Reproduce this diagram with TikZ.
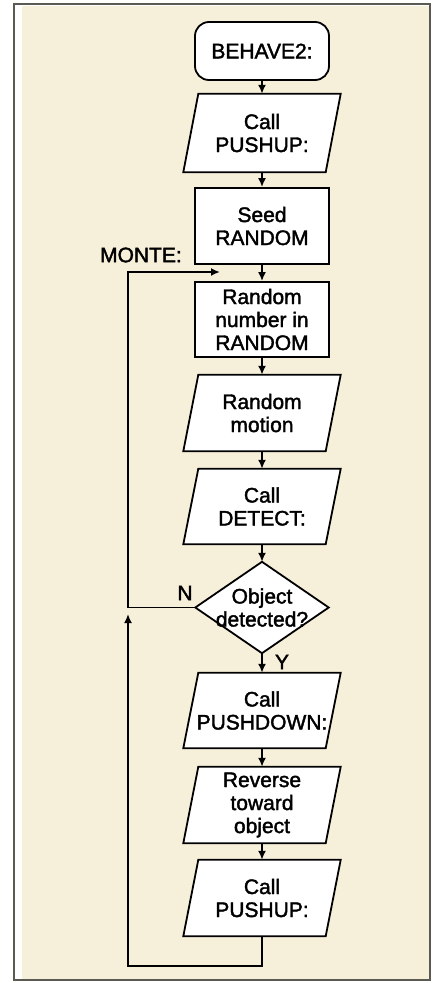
\documentclass[tikz,border=0pt]{standalone}
\usepackage{fontspec}
\setmainfont[FakeBold=1.8]{Liberation Sans}
\usetikzlibrary{arrows.meta,calc}
\pgfdeclarelayer{back}
\pgfdeclarelayer{bg}
\pgfsetlayers{back,bg,main}
\definecolor{cream}{HTML}{F6EFD9}
\definecolor{frame}{HTML}{5A5A52}
\begin{document}
\begin{tikzpicture}[x=1pt,y=-1pt,
  line width=1.8pt,
  txt/.style={font=\fontsize{21}{23}\selectfont, align=center, inner sep=0pt},
  box/.style={txt, draw=black, fill=white, line width=1.8pt, minimum width=134pt, minimum height=76pt},
  pbox/.style={txt, minimum width=142pt, minimum height=76pt},
  dbox/.style={txt, minimum width=133pt, minimum height=91pt},
  lbl/.style={font=\fontsize{21}{23}\selectfont, inner sep=0pt},
  arr/.style={line width=1.8pt, -{Latex[length=9pt,width=8pt]}},
  shapeline/.style={draw=black, fill=white, line width=1.8pt, line join=miter}
]
\useasboundingbox (0,0) rectangle (433,983);
\begin{pgfonlayer}{back}
\fill[white] (0,0) rectangle (433,983);
\fill[cream] (22,6) rectangle (429,979);
\draw[frame, line width=1.6pt] (14,4) rectangle (430,980);
\end{pgfonlayer}

\node[box, rounded corners=14pt, minimum height=58pt] (beh) at (262,51) {BEHAVE2:};
\node[pbox, minimum height=78pt] (p1) at (262,133) {Call\\PUSHUP:};
\node[box] (seed) at (262,226) {Seed\\RANDOM};
\node[box, minimum height=75pt] (rnd) at (262,319.5) {Random\\number in\\RANDOM};
\node[pbox] (mot) at (262,413) {Random\\motion};
\node[pbox, minimum height=75pt] (det) at (262,506.5) {Call\\DETECT:};
\node[dbox] (dia) at (262,607.5) {Object\\detected?};
\node[pbox, minimum height=75pt] (pd) at (262,710.5) {Call\\PUSHDOWN:};
\node[pbox] (rev) at (262,805) {Reverse\\toward\\object};
\node[pbox] (pu2) at (262,898) {Call\\PUSHUP:};

\begin{pgfonlayer}{bg}
  \foreach \n in {p1,mot,det,pd,rev,pu2}{
    \path[shapeline] ($(\n.south west)+(-7.5,0)$) -- ($(\n.south east)+(-7.5,0)$)
      -- ($(\n.north east)+(7.5,0)$) -- ($(\n.north west)+(7.5,0)$) -- cycle;
  }
  \path[shapeline] (dia.north) -- (dia.east) -- (dia.south) -- (dia.west) -- cycle;
\end{pgfonlayer}

\node[lbl, anchor=east] (monte) at (182,255) {MONTE:};
\node[lbl] (nlab) at (185,593) {N};
\node[lbl] (ylab) at (282,662) {Y};

\draw[arr] (beh.south) -- (p1.north);
\draw[arr] (p1.south) -- (seed.north);
\draw[arr] (seed.south) -- (rnd.north);
\draw[arr] (rnd.south) -- (mot.north);
\draw[arr] (mot.south) -- (det.north);
\draw[arr] (det.south) -- (dia.north);
\draw[arr] (dia.south) -- (pd.north);
\draw[arr] (pd.south) -- (rev.north);
\draw[arr] (rev.south) -- (pu2.north);

\coordinate (m) at (220,272);
\coordinate (nl) at (128,607.5);
\draw[arr] (dia.west) -- (nl) -- (nl |- m) -- (m);

\coordinate (b1) at (262,966);
\coordinate (bt) at (128,614);
\draw[arr] (pu2.south) -- (b1) -- (bt |- b1) -- (bt);
\end{tikzpicture}
\end{document}
